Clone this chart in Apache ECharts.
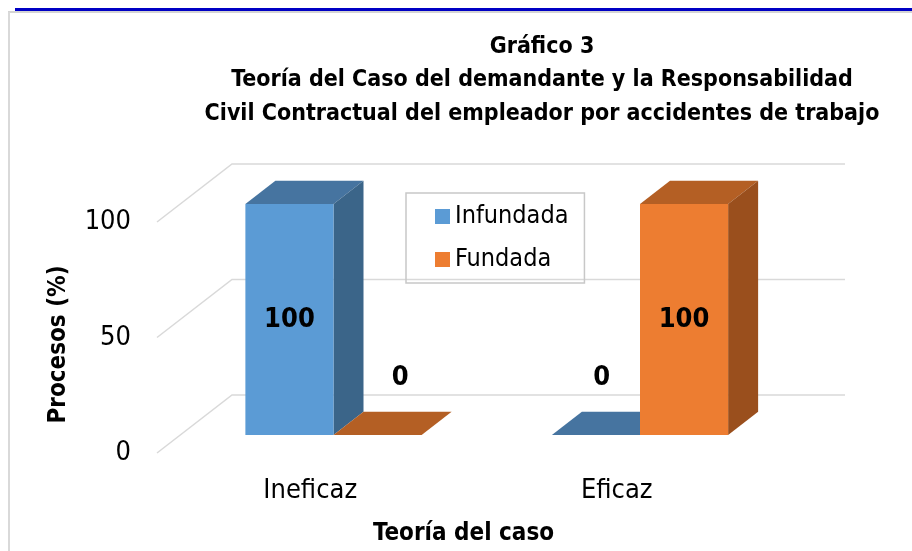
<!DOCTYPE html>
<html>
<head>
<meta charset="utf-8">
<script src="https://cdn.jsdelivr.net/npm/echarts@6/dist/echarts.min.js"></script>
<style>
  html, body { margin: 0; padding: 0; background: #fff; }
  #chart { width: 912px; height: 551px; }
</style>
</head>
<body>
<div id="chart"></div>
<script>
  // Chart data
  var categories = ['Ineficaz', 'Eficaz'];
  var seriesNames = ['Infundada', 'Fundada'];
  var infundada = [100, 0];
  var fundada = [0, 100];
  var gridTicks = [0, 50, 100];

  var FONT = "'Liberation Sans Narrow', 'Arial Narrow', 'DejaVu Sans Condensed', sans-serif";

  // fake 3D: full depth of the floor, bar slab sits between z0 and z1
  var DEPTH = [75, -58];
  var BAR_Z0 = 0.31, BAR_Z1 = 0.71;
  var BAR_RATIO = 0.2875;

  var BLUE = { front: '#5b9bd5', top: '#4674a0', side: '#3b6589' };
  var ORANGE = { front: '#ed7d31', top: '#b45f24', side: '#9a4f1d' };

  function renderGrid(params, api) {
    var cs = params.coordSys;
    var y = api.coord([0, api.value(1)])[1];
    var xl = cs.x, xr = cs.x + cs.width;
    return {
      type: 'polyline',
      shape: { points: [[xl, y], [xl + DEPTH[0], y + DEPTH[1]], [xr + DEPTH[0], y + DEPTH[1]]] },
      style: { stroke: '#d9d9d9', lineWidth: 1.5, fill: null }
    };
  }

  function makeBar(side, c, zeroDx) {
    return function (params, api) {
      var i = api.value(0), v = api.value(1);
      var top = api.coord([i, v]), bot = api.coord([i, 0]);
      var bw = api.size([1, 0])[0] * BAR_RATIO;
      var ox = DEPTH[0] * BAR_Z0, oy = DEPTH[1] * BAR_Z0;
      var dx = DEPTH[0] * (BAR_Z1 - BAR_Z0), dy = DEPTH[1] * (BAR_Z1 - BAR_Z0);
      var x0 = top[0] + (side < 0 ? -bw : 0) + ox;
      var x1 = x0 + bw;
      var yt = top[1] + oy, yb = bot[1] + oy;
      var children = [
        {
          type: 'polygon',
          shape: { points: [[x0, yt], [x1, yt], [x1 + dx, yt + dy], [x0 + dx, yt + dy]] },
          style: { fill: c.top }
        }
      ];
      if (yb - yt > 0.5) {
        children.push({
          type: 'polygon',
          shape: { points: [[x1, yt], [x1 + dx, yt + dy], [x1 + dx, yb + dy], [x1, yb]] },
          style: { fill: c.side }
        });
        children.push({
          type: 'rect',
          shape: { x: x0, y: yt, width: bw, height: yb - yt },
          style: { fill: c.front }
        });
      }
      var lx, ly;
      if (v > 0) {
        lx = (x0 + x1) / 2; ly = (yt + yb) / 2;
      } else {
        lx = top[0] + (side < 0 ? -bw / 2 : bw / 2) + zeroDx; ly = bot[1] - 75;
      }
      children.push({
        type: 'text',
        style: {
          x: lx, y: ly, text: String(v), align: 'center', verticalAlign: 'middle',
          fill: '#000', font: 'bold 27px ' + FONT
        }
      });
      return { type: 'group', children: children };
    };
  }

  var chart = echarts.init(document.getElementById('chart'));

  var option = {
    backgroundColor: '#fff',
    animation: false,
    title: {
      text: 'Gráfico 3\nTeoría del Caso del demandante y la Responsabilidad\nCivil Contractual del empleador por accidentes de trabajo',
      left: 537,
      top: 25,
      textAlign: 'center',
      textStyle: { fontFamily: FONT, fontWeight: 'bold', fontSize: 23, lineHeight: 33.5, color: '#000' }
    },
    legend: {
      data: [
        { name: seriesNames[0], icon: 'rect' },
        { name: seriesNames[1], icon: 'rect' }
      ],
      orient: 'vertical',
      left: 406,
      top: 193,
      padding: [11, 16, 11, 29],
      itemWidth: 15,
      itemHeight: 15,
      itemGap: 18,
      borderColor: '#c8c8c8',
      borderWidth: 1.5,
      textStyle: { fontFamily: FONT, fontSize: 25, color: '#000' }
    },
    grid: { left: 157, right: 142, top: 222, bottom: 98 },
    xAxis: {
      type: 'category',
      data: categories,
      name: 'Teoría del caso',
      nameLocation: 'middle',
      nameGap: 69,
      nameTextStyle: { fontFamily: FONT, fontWeight: 'bold', fontSize: 24, color: '#000' },
      axisLine: { show: false },
      axisTick: { show: false },
      axisLabel: { margin: 24, fontFamily: FONT, fontSize: 27, color: '#000' }
    },
    yAxis: {
      type: 'value',
      min: 0,
      max: 100,
      interval: 50,
      name: 'Procesos (%)',
      nameLocation: 'middle',
      nameRotate: 90,
      nameGap: 86,
      nameTextStyle: { fontFamily: FONT, fontWeight: 'bold', fontSize: 24, color: '#000', padding: [0, 14, 0, 0] },
      axisLine: { show: false },
      axisTick: { show: false },
      splitLine: { show: false },
      axisLabel: { margin: 26, fontFamily: FONT, fontSize: 27, color: '#000' }
    },
    graphic: [
      { type: 'rect', shape: { x: 15, y: 8, width: 897, height: 3 }, style: { fill: '#0000c4' } },
      { type: 'rect', shape: { x: 8, y: 11, width: 904, height: 2 }, style: { fill: '#d4d4d4' } },
      { type: 'rect', shape: { x: 8, y: 12, width: 2, height: 539 }, style: { fill: '#d9d9d9' } }
    ],
    series: [
      {
        type: 'custom',
        name: 'grid3d',
        silent: true,
        clip: false,
        z: 1,
        renderItem: renderGrid,
        encode: { x: 0, y: 1 },
        data: gridTicks.map(function (t) { return [0, t]; })
      },
      {
        type: 'custom',
        name: seriesNames[0],
        clip: false,
        z: 2,
        itemStyle: { color: BLUE.front },
        renderItem: makeBar(-1, BLUE, 29),
        encode: { x: 0, y: 1 },
        data: categories.map(function (c, i) { return [i, infundada[i]]; })
      },
      {
        type: 'custom',
        name: seriesNames[1],
        clip: false,
        z: 3,
        itemStyle: { color: ORANGE.front },
        renderItem: makeBar(1, ORANGE, 46),
        encode: { x: 0, y: 1 },
        data: categories.map(function (c, i) { return [i, fundada[i]]; })
      }
    ]
  };

  chart.setOption(option);
</script>
</body>
</html>
